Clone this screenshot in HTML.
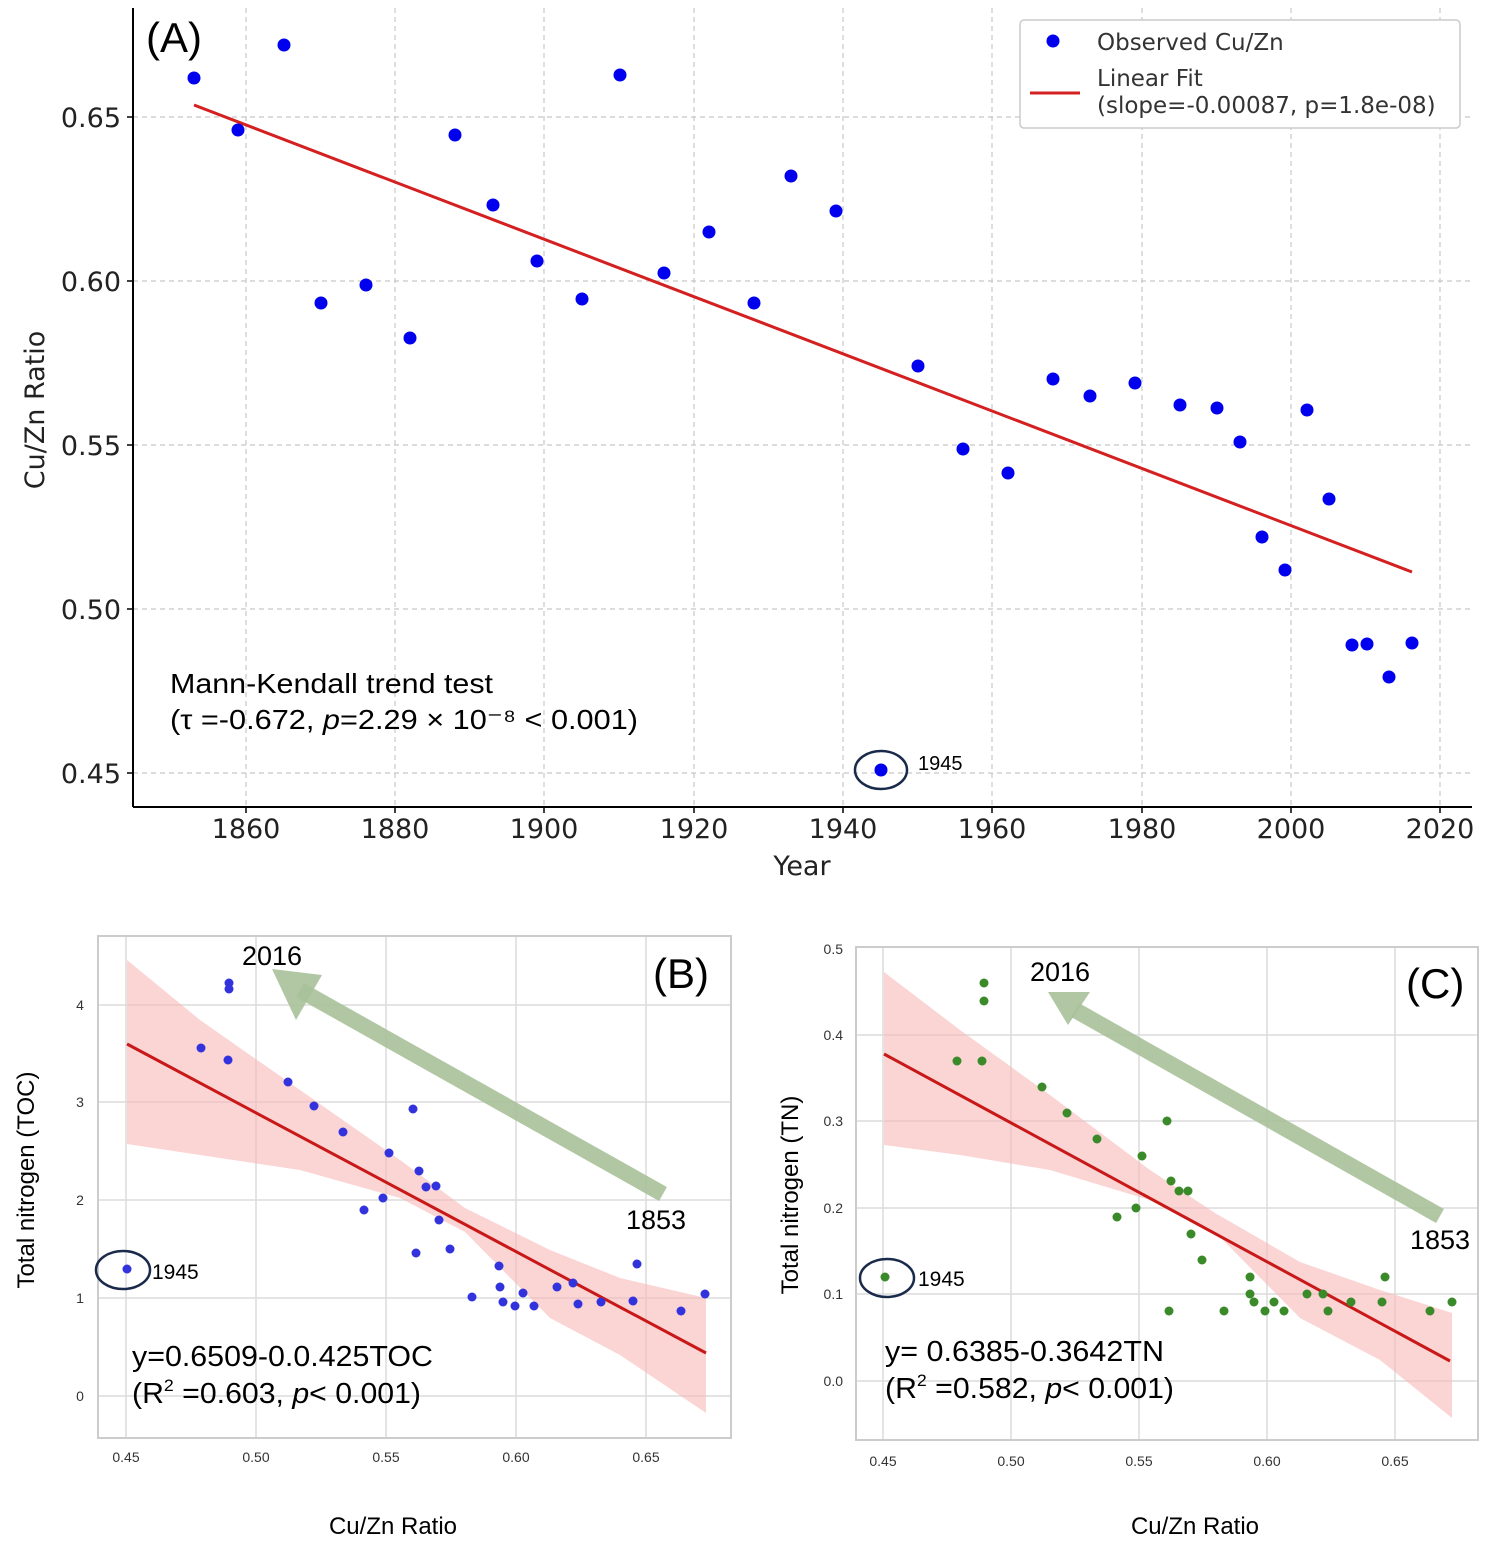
<!DOCTYPE html>
<html><head><meta charset="utf-8"><style>
html,body{margin:0;padding:0;background:#fff}
svg{display:block}
text{font-family:"DejaVu Sans","Liberation Sans",sans-serif}
.ar, .ar text{font-family:"Liberation Sans",sans-serif}
</style></head><body>
<svg width="1500" height="1562" viewBox="0 0 1500 1562" xmlns="http://www.w3.org/2000/svg">
<rect width="1500" height="1562" fill="#fff"/>
<g stroke="#c8c8c8" stroke-dasharray="5,4" stroke-width="1.2">
<line x1="246" y1="8" x2="246" y2="807"/><line x1="395" y1="8" x2="395" y2="807"/><line x1="544" y1="8" x2="544" y2="807"/><line x1="694" y1="8" x2="694" y2="807"/><line x1="843" y1="8" x2="843" y2="807"/><line x1="992" y1="8" x2="992" y2="807"/><line x1="1142" y1="8" x2="1142" y2="807"/><line x1="1291" y1="8" x2="1291" y2="807"/><line x1="1440" y1="8" x2="1440" y2="807"/>
<line x1="133" y1="117" x2="1472" y2="117"/><line x1="133" y1="281" x2="1472" y2="281"/><line x1="133" y1="445" x2="1472" y2="445"/><line x1="133" y1="609" x2="1472" y2="609"/><line x1="133" y1="773" x2="1472" y2="773"/>
</g>
<g stroke="#000" stroke-width="2"><line x1="133" y1="8" x2="133" y2="807"/><line x1="133" y1="807" x2="1472" y2="807"/></g>
<g stroke="#000" stroke-width="1.5">
<line x1="246" y1="807" x2="246" y2="813"/><line x1="395" y1="807" x2="395" y2="813"/><line x1="544" y1="807" x2="544" y2="813"/><line x1="694" y1="807" x2="694" y2="813"/><line x1="843" y1="807" x2="843" y2="813"/><line x1="992" y1="807" x2="992" y2="813"/><line x1="1142" y1="807" x2="1142" y2="813"/><line x1="1291" y1="807" x2="1291" y2="813"/><line x1="1440" y1="807" x2="1440" y2="813"/>
<line x1="127" y1="117" x2="133" y2="117"/><line x1="127" y1="281" x2="133" y2="281"/><line x1="127" y1="445" x2="133" y2="445"/><line x1="127" y1="609" x2="133" y2="609"/><line x1="127" y1="773" x2="133" y2="773"/>
</g>
<g font-size="27" fill="#222" text-anchor="middle">
<text x="246" y="838">1860</text><text x="395" y="838">1880</text><text x="544" y="838">1900</text><text x="694" y="838">1920</text><text x="843" y="838">1940</text><text x="992" y="838">1960</text><text x="1142" y="838">1980</text><text x="1291" y="838">2000</text><text x="1440" y="838">2020</text>
</g>
<g font-size="27" fill="#222" text-anchor="end">
<text x="121" y="127">0.65</text><text x="121" y="291">0.60</text><text x="121" y="455">0.55</text><text x="121" y="619">0.50</text><text x="121" y="783">0.45</text>
</g>
<text x="802" y="875" font-size="27" fill="#222" text-anchor="middle">Year</text>
<text transform="translate(44,410) rotate(-90)" font-size="27" fill="#222" text-anchor="middle">Cu/Zn Ratio</text>
<text x="146" y="52" font-size="42" fill="#000" class="ar">(A)</text>
<line x1="194" y1="105" x2="1412" y2="572" stroke="#d42020" stroke-width="3"/>
<g fill="#0000ee">
<circle cx="194" cy="78" r="6.5"/><circle cx="238" cy="130" r="6.5"/><circle cx="284" cy="45" r="6.5"/><circle cx="321" cy="303" r="6.5"/><circle cx="366" cy="285" r="6.5"/><circle cx="410" cy="338" r="6.5"/><circle cx="455" cy="135" r="6.5"/><circle cx="493" cy="205" r="6.5"/><circle cx="537" cy="261" r="6.5"/><circle cx="582" cy="299" r="6.5"/><circle cx="620" cy="75" r="6.5"/><circle cx="664" cy="273" r="6.5"/><circle cx="709" cy="232" r="6.5"/><circle cx="754" cy="303" r="6.5"/><circle cx="791" cy="176" r="6.5"/><circle cx="836" cy="211" r="6.5"/><circle cx="881" cy="770" r="6.5"/><circle cx="918" cy="366" r="6.5"/><circle cx="963" cy="449" r="6.5"/><circle cx="1008" cy="473" r="6.5"/><circle cx="1053" cy="379" r="6.5"/><circle cx="1090" cy="396" r="6.5"/><circle cx="1135" cy="383" r="6.5"/><circle cx="1180" cy="405" r="6.5"/><circle cx="1217" cy="408" r="6.5"/><circle cx="1240" cy="442" r="6.5"/><circle cx="1262" cy="537" r="6.5"/><circle cx="1285" cy="570" r="6.5"/><circle cx="1307" cy="410" r="6.5"/><circle cx="1329" cy="499" r="6.5"/><circle cx="1352" cy="645" r="6.5"/><circle cx="1367" cy="644" r="6.5"/><circle cx="1389" cy="677" r="6.5"/><circle cx="1412" cy="643" r="6.5"/>
</g>
<ellipse cx="881" cy="770" rx="26" ry="19" fill="none" stroke="#1a2a4a" stroke-width="2.5"/>
<text x="918" y="770" font-size="20" fill="#000" class="ar">1945</text>
<text x="170" y="693" font-size="28" fill="#000" class="ar" textLength="323" lengthAdjust="spacingAndGlyphs">Mann-Kendall trend test</text>
<text x="170" y="729" font-size="28" fill="#000" class="ar" textLength="468" lengthAdjust="spacingAndGlyphs">(τ  =-0.672, <tspan font-style="italic">p</tspan>=2.29 × 10⁻⁸ &lt; 0.001)</text>
<rect x="1020" y="20" width="440" height="108" rx="4" fill="#fff" stroke="#ccc" stroke-width="1.5"/>
<circle cx="1053" cy="41" r="6.5" fill="#0000ee"/>
<line x1="1030" y1="93" x2="1080" y2="93" stroke="#d42020" stroke-width="3"/>
<g font-size="23" fill="#333"><text x="1097" y="50">Observed Cu/Zn</text><text x="1097" y="86">Linear Fit</text><text x="1097" y="113">(slope=-0.00087, p=1.8e-08)</text></g>

<g stroke="#dcdcdc" stroke-width="1.5">
<line x1="126" y1="936" x2="126" y2="1438"/><line x1="256" y1="936" x2="256" y2="1438"/><line x1="386" y1="936" x2="386" y2="1438"/><line x1="516" y1="936" x2="516" y2="1438"/><line x1="646" y1="936" x2="646" y2="1438"/>
<line x1="98" y1="1005" x2="731" y2="1005"/><line x1="98" y1="1102" x2="731" y2="1102"/><line x1="98" y1="1200" x2="731" y2="1200"/><line x1="98" y1="1298" x2="731" y2="1298"/><line x1="98" y1="1396" x2="731" y2="1396"/>
</g>
<rect x="98" y="936" width="633" height="502" fill="none" stroke="#ccc" stroke-width="2"/>
<polygon points="127,960 200,1020 300,1090 400,1160 465,1208 550,1250 620,1278 706,1298 706,1413 620,1355 550,1318 465,1232 400,1198 300,1170 200,1155 127,1144" fill="#f9b8b8" opacity="0.6"/>
<line x1="127" y1="1044" x2="706" y2="1353" stroke="#c81818" stroke-width="3"/>
<line x1="663" y1="1194" x2="300" y2="990" stroke="#a9c19a" stroke-width="16" opacity="0.9"/>
<polygon points="272,969 322,975 296,1020" fill="#a9c19a" opacity="0.9"/>
<g fill="#3333dd">
<circle cx="229" cy="983" r="4.5"/><circle cx="229" cy="989" r="4.5"/><circle cx="201" cy="1048" r="4.5"/><circle cx="228" cy="1060" r="4.5"/><circle cx="288" cy="1082" r="4.5"/><circle cx="314" cy="1106" r="4.5"/><circle cx="413" cy="1109" r="4.5"/><circle cx="343" cy="1132" r="4.5"/><circle cx="389" cy="1153" r="4.5"/><circle cx="419" cy="1171" r="4.5"/><circle cx="426" cy="1187" r="4.5"/><circle cx="436" cy="1186" r="4.5"/><circle cx="383" cy="1198" r="4.5"/><circle cx="364" cy="1210" r="4.5"/><circle cx="439" cy="1220" r="4.5"/><circle cx="416" cy="1253" r="4.5"/><circle cx="450" cy="1249" r="4.5"/><circle cx="499" cy="1266" r="4.5"/><circle cx="637" cy="1264" r="4.5"/><circle cx="500" cy="1287" r="4.5"/><circle cx="523" cy="1293" r="4.5"/><circle cx="557" cy="1287" r="4.5"/><circle cx="573" cy="1283" r="4.5"/><circle cx="472" cy="1297" r="4.5"/><circle cx="503" cy="1302" r="4.5"/><circle cx="515" cy="1306" r="4.5"/><circle cx="534" cy="1306" r="4.5"/><circle cx="578" cy="1304" r="4.5"/><circle cx="601" cy="1302" r="4.5"/><circle cx="633" cy="1301" r="4.5"/><circle cx="681" cy="1311" r="4.5"/><circle cx="705" cy="1294" r="4.5"/><circle cx="127" cy="1269" r="4.5"/>
</g>
<ellipse cx="123" cy="1270" rx="27" ry="19" fill="none" stroke="#1a2a4a" stroke-width="2.5"/>
<g class="ar" fill="#000">
<text x="152" y="1279" font-size="21">1945</text>
<text x="242" y="965" font-size="27">2016</text>
<text x="626" y="1229" font-size="27">1853</text>
<text x="653" y="988" font-size="42">(B)</text>
<text x="132" y="1366" font-size="29" textLength="301" lengthAdjust="spacingAndGlyphs">y=0.6509-0.0.425TOC</text>
<text x="132" y="1403" font-size="29" textLength="289" lengthAdjust="spacingAndGlyphs">(R<tspan font-size="17" dy="-12">2</tspan><tspan dy="12"> =0.603, </tspan><tspan font-style="italic">p</tspan>&lt; 0.001)</text>
</g>
<g font-size="14" fill="#333" text-anchor="middle" class="ar">
<text x="126" y="1462">0.45</text><text x="256" y="1462">0.50</text><text x="386" y="1462">0.55</text><text x="516" y="1462">0.60</text><text x="646" y="1462">0.65</text>
<text x="80" y="1010">4</text><text x="80" y="1107">3</text><text x="80" y="1205">2</text><text x="80" y="1303">1</text><text x="80" y="1401">0</text>
</g>
<text transform="translate(34,1180) rotate(-90)" font-size="24" fill="#000" text-anchor="middle" class="ar">Total nitrogen (TOC)</text>
<text x="393" y="1534" font-size="24" fill="#000" text-anchor="middle" class="ar">Cu/Zn Ratio</text>

<g stroke="#dcdcdc" stroke-width="1.5">
<line x1="883" y1="947" x2="883" y2="1440"/><line x1="1011" y1="947" x2="1011" y2="1440"/><line x1="1139" y1="947" x2="1139" y2="1440"/><line x1="1267" y1="947" x2="1267" y2="1440"/><line x1="1395" y1="947" x2="1395" y2="1440"/>
<line x1="856" y1="1035" x2="1478" y2="1035"/><line x1="856" y1="1121" x2="1478" y2="1121"/><line x1="856" y1="1208" x2="1478" y2="1208"/><line x1="856" y1="1294" x2="1478" y2="1294"/><line x1="856" y1="1381" x2="1478" y2="1381"/>
</g>
<rect x="856" y="947" width="622" height="493" fill="none" stroke="#ccc" stroke-width="2"/>
<polygon points="884,972 960,1030 1050,1095 1150,1170 1215,1213 1300,1262 1380,1290 1452,1313 1452,1418 1380,1360 1300,1318 1215,1232 1150,1200 1050,1170 960,1155 884,1145" fill="#f9b8b8" opacity="0.6"/>
<line x1="884" y1="1054" x2="1450" y2="1361" stroke="#c81818" stroke-width="3"/>
<line x1="1440" y1="1216" x2="1075" y2="1010" stroke="#a9c19a" stroke-width="16" opacity="0.9"/>
<polygon points="1048,992 1090,992 1068,1025" fill="#a9c19a" opacity="0.9"/>
<g fill="#3a8a2a">
<circle cx="984" cy="983" r="4.5"/><circle cx="984" cy="1001" r="4.5"/><circle cx="957" cy="1061" r="4.5"/><circle cx="982" cy="1061" r="4.5"/><circle cx="1042" cy="1087" r="4.5"/><circle cx="1067" cy="1113" r="4.5"/><circle cx="1167" cy="1121" r="4.5"/><circle cx="1097" cy="1139" r="4.5"/><circle cx="1142" cy="1156" r="4.5"/><circle cx="1171" cy="1181" r="4.5"/><circle cx="1179" cy="1191" r="4.5"/><circle cx="1188" cy="1191" r="4.5"/><circle cx="1136" cy="1208" r="4.5"/><circle cx="1117" cy="1217" r="4.5"/><circle cx="1191" cy="1234" r="4.5"/><circle cx="1202" cy="1260" r="4.5"/><circle cx="1250" cy="1277" r="4.5"/><circle cx="1385" cy="1277" r="4.5"/><circle cx="1250" cy="1294" r="4.5"/><circle cx="1254" cy="1302" r="4.5"/><circle cx="1274" cy="1302" r="4.5"/><circle cx="1307" cy="1294" r="4.5"/><circle cx="1323" cy="1294" r="4.5"/><circle cx="1351" cy="1302" r="4.5"/><circle cx="1382" cy="1302" r="4.5"/><circle cx="1328" cy="1311" r="4.5"/><circle cx="1169" cy="1311" r="4.5"/><circle cx="1224" cy="1311" r="4.5"/><circle cx="1265" cy="1311" r="4.5"/><circle cx="1284" cy="1311" r="4.5"/><circle cx="1430" cy="1311" r="4.5"/><circle cx="1452" cy="1302" r="4.5"/><circle cx="885" cy="1277" r="4.5"/>
</g>
<ellipse cx="887" cy="1278" rx="27" ry="19" fill="none" stroke="#1a2a4a" stroke-width="2.5"/>
<g class="ar" fill="#000">
<text x="918" y="1286" font-size="21">1945</text>
<text x="1030" y="981" font-size="27">2016</text>
<text x="1410" y="1249" font-size="27">1853</text>
<text x="1406" y="998" font-size="42">(C)</text>
<text x="885" y="1361" font-size="29" textLength="279" lengthAdjust="spacingAndGlyphs">y= 0.6385-0.3642TN</text>
<text x="885" y="1398" font-size="29" textLength="289" lengthAdjust="spacingAndGlyphs">(R<tspan font-size="17" dy="-12">2</tspan><tspan dy="12"> =0.582, </tspan><tspan font-style="italic">p</tspan>&lt; 0.001)</text>
</g>
<g font-size="14" fill="#333" class="ar">
<g text-anchor="middle"><text x="883" y="1466">0.45</text><text x="1011" y="1466">0.50</text><text x="1139" y="1466">0.55</text><text x="1267" y="1466">0.60</text><text x="1395" y="1466">0.65</text></g>
<g text-anchor="end"><text x="843" y="954">0.5</text><text x="843" y="1040">0.4</text><text x="843" y="1126">0.3</text><text x="843" y="1213">0.2</text><text x="843" y="1299">0.1</text><text x="843" y="1386">0.0</text></g>
</g>
<text transform="translate(798,1195) rotate(-90)" font-size="24" fill="#000" text-anchor="middle" class="ar">Total nitrogen (TN)</text>
<text x="1195" y="1534" font-size="24" fill="#000" text-anchor="middle" class="ar">Cu/Zn Ratio</text>
</svg>
</body></html>
